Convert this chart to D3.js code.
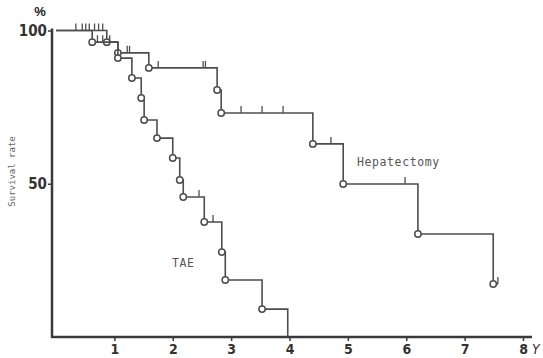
<!DOCTYPE html>
<html>
<head>
<meta charset="utf-8">
<script src="https://cdn.jsdelivr.net/npm/d3@7"></script>
<style>
  body { margin: 0; background: #fff; }
  svg { display: block; }
</style>
</head>
<body>
<div id="chart-area"></div>
<script>
// survival data (years, %)
const hepTimes = [0, 0.87, 1.06, 1.59, 2.76, 2.83, 4.40, 4.92, 6.20, 7.49];
const hepSurv = [100, 96.2, 92.7, 87.8, 80.6, 73.1, 63.0, 49.9, 33.6, 17.3];
const hepCensor = [0.34, 0.45, 0.51, 0.57, 0.66, 0.73, 0.80, 1.22, 1.26, 1.75, 2.52, 2.56, 3.17, 3.53, 3.89, 4.71, 5.98, 7.57];

const taeTimes = [0, 0.62, 1.06, 1.30, 1.46, 1.51, 1.73, 2.00, 2.12, 2.18, 2.54, 2.84, 2.90, 3.53, 3.97];
const taeSurv = [100, 96.2, 91.0, 84.5, 78.0, 70.8, 64.9, 58.4, 51.2, 45.7, 37.5, 27.7, 18.6, 9.1, 0];
const taeCensor = [0.71, 0.80, 0.92, 2.45, 2.69];

const xTicks = [1, 2, 3, 4, 5, 6, 7, 8];
const yTicks = [50, 100];

const canvasWidth = 543;
const canvasHeight = 358;

const lineColor = "#4d4d4d";
const axisColor = "#3a3a3a";

const svg = d3.select("#chart-area")
  .append("svg")
    .attr("width", canvasWidth)
    .attr("height", canvasHeight);

// scales
const xScale = d3.scaleLinear().domain([0, 8]).range([56, 523]);
const yScale = d3.scaleLinear().domain([0, 100]).range([337, 30.5]);

const axisX0 = xScale(0) - 4;

// y axis line
svg.append("line")
  .attr("x1", axisX0).attr("x2", axisX0)
  .attr("y1", yScale(100) - 2).attr("y2", yScale(0) + 1)
  .attr("stroke", axisColor).attr("stroke-width", 2.5);

// x axis line
svg.append("line")
  .attr("x1", axisX0 - 1).attr("x2", xScale(8) + 9)
  .attr("y1", yScale(0)).attr("y2", yScale(0))
  .attr("stroke", axisColor).attr("stroke-width", 2.5);

// x ticks
const xAxis = d3.axisBottom(xScale).tickValues(xTicks).tickSize(4).tickPadding(3);
const gx = svg.append("g")
  .attr("transform", `translate(0,${yScale(0)})`)
  .call(xAxis);
gx.select(".domain").remove();
gx.selectAll(".tick line").attr("stroke", axisColor).attr("stroke-width", 1.5);
gx.selectAll(".tick text")
  .attr("fill", "#333")
  .attr("font-family", "'Liberation Sans Narrow', 'DejaVu Sans Condensed', sans-serif")
  .attr("font-weight", "bold")
  .attr("font-size", "14px");

svg.append("text")
  .attr("x", xScale(8) + 9)
  .attr("y", yScale(0) + 17)
  .attr("fill", "#333")
  .attr("font-family", "'Liberation Sans Narrow', 'DejaVu Sans Condensed', sans-serif")
  .attr("font-size", "14px")
  .attr("font-style", "italic")
  .text("Y");

// y ticks
const yAxis = d3.axisLeft(yScale).tickValues(yTicks).tickSize(4).tickPadding(1);
const gy = svg.append("g")
  .attr("transform", `translate(${axisX0},0)`)
  .call(yAxis);
gy.select(".domain").remove();
gy.selectAll(".tick line").attr("stroke", axisColor).attr("stroke-width", 1.5);
gy.selectAll(".tick text")
  .attr("fill", "#333")
  .attr("font-family", "'Liberation Sans Narrow', 'DejaVu Sans Condensed', sans-serif")
  .attr("font-weight", "bold")
  .attr("font-size", "15px");

svg.append("text")
  .attr("x", 40)
  .attr("y", 16)
  .attr("text-anchor", "middle")
  .attr("fill", "#222")
  .attr("font-family", "'Liberation Sans Narrow', sans-serif")
  .attr("font-weight", "bold")
  .attr("font-size", "13px")
  .text("%");

svg.append("text")
  .attr("transform", `translate(15,${yScale(54)}) rotate(-90)`)
  .attr("text-anchor", "middle")
  .attr("fill", "#666")
  .attr("font-family", "'DejaVu Sans Mono', monospace")
  .attr("font-size", "9px")
  .text("Survival rate");

// build curve points
const stepPoints = (times, surv, censor) => {
  const pts = times.map((t, i) => [t, surv[i]]);
  const last = d3.max(censor.concat(times));
  pts.push([last, surv[surv.length - 1]]);
  return pts;
};

const survAt = (times, surv, t) => {
  let v = surv[0];
  times.forEach((tt, i) => { if (tt <= t) v = surv[i]; });
  return v;
};

const line = d3.line()
  .x((d) => xScale(d[0]))
  .y((d) => yScale(d[1]))
  .curve(d3.curveStepAfter);

const groups = [
  { times: hepTimes, surv: hepSurv, censor: hepCensor },
  { times: taeTimes, surv: taeSurv, censor: taeCensor }
];

groups.forEach((g) => {
  svg.append("path")
    .datum(stepPoints(g.times, g.surv, g.censor))
    .attr("d", line)
    .attr("fill", "none")
    .attr("stroke", lineColor)
    .attr("stroke-width", 1.6);

  // censored cases
  svg.selectAll(null)
    .data(g.censor)
    .enter()
    .append("line")
      .attr("x1", (d) => xScale(d)).attr("x2", (d) => xScale(d))
      .attr("y1", (d) => yScale(survAt(g.times, g.surv, d)))
      .attr("y2", (d) => yScale(survAt(g.times, g.surv, d)) - 7)
      .attr("stroke", lineColor)
      .attr("stroke-width", 1.3);

  // deaths
  const deaths = g.times.map((t, i) => [t, g.surv[i]]).filter((d, i) => i > 0 && d[1] > 0);
  svg.selectAll(null)
    .data(deaths)
    .enter()
    .append("circle")
      .attr("cx", (d) => xScale(d[0]))
      .attr("cy", (d) => yScale(d[1]))
      .attr("r", 3.2)
      .attr("fill", "#fff")
      .attr("stroke", lineColor)
      .attr("stroke-width", 1.5);
});

// labels
svg.append("text")
  .attr("x", 357)
  .attr("y", 166)
  .attr("fill", "#555")
  .attr("font-family", "'DejaVu Sans Mono', monospace")
  .attr("font-size", "11.5px")
  .attr("letter-spacing", "0.6px")
  .text("Hepatectomy");

svg.append("text")
  .attr("x", 172)
  .attr("y", 267)
  .attr("fill", "#555")
  .attr("font-family", "'DejaVu Sans Mono', monospace")
  .attr("font-size", "11.5px")
  .attr("letter-spacing", "0.6px")
  .text("TAE");
</script>
</body>
</html>
